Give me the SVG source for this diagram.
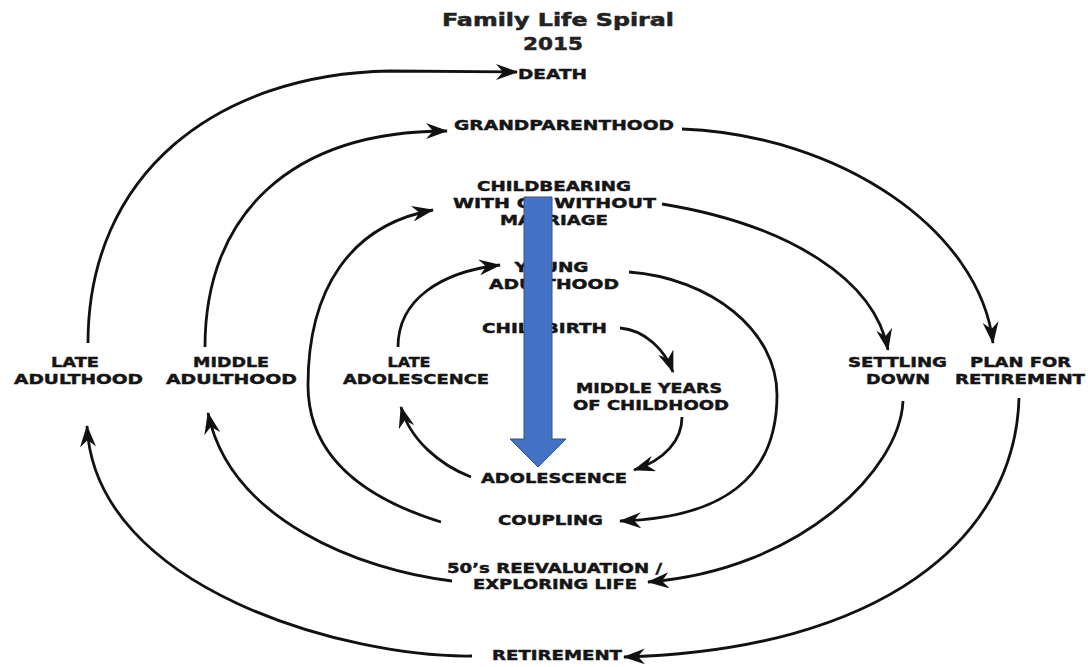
<svg xmlns="http://www.w3.org/2000/svg" width="1088" height="667" viewBox="0 0 1088 667">
<style>
  .t { font-family: "DejaVu Sans", "Liberation Sans", sans-serif; font-weight: bold; font-size: 14px; fill: #151515; stroke: #151515; stroke-width: 0.45; text-anchor: middle; }
  .title { font-family: "DejaVu Sans", "Liberation Sans", sans-serif; font-weight: bold; font-size: 18.5px; fill: #222; stroke: #222; stroke-width: 0.5; text-anchor: middle; }
  .c { fill: none; stroke: #111; stroke-width: 2.8; marker-end: url(#ah); }
</style>
<defs>
  <marker id="ah" viewBox="0 0 22 16" refX="21" refY="8" markerWidth="22" markerHeight="16" markerUnits="userSpaceOnUse" orient="auto">
    <path d="M0,0 L22,8 L0,16 L7,8 z" fill="#111"/>
  </marker>
</defs>
<rect width="1088" height="667" fill="#fff"/>

<g id="title">
  <text class="title" x="558" y="26" textLength="232" lengthAdjust="spacingAndGlyphs">Family Life Spiral</text>
  <text class="title" x="553" y="50" textLength="60" lengthAdjust="spacingAndGlyphs">2015</text>
</g>

<g id="connectors">
  <path class="c" d="M88,343 C88,175 215,74 390,71 C440,71 480,72 517,72"/>
  <path class="c" d="M205,347 C205,215 290,131 447,131"/>
  <path class="c" d="M682,129 C840,135 980,230 993,343"/>
  <path class="c" d="M441,522 C370,500 308,460 308,385 C308,290 350,225 433,210"/>
  <path class="c" d="M662,204 C790,225 875,280 888,350"/>
  <path class="c" d="M398,347 C398,300 440,272 500,265"/>
  <path class="c" d="M629,272 C710,278 777,330 777,395 C777,480 720,518 620,521"/>
  <path class="c" d="M620,328 C645,330 665,350 673,372"/>
  <path class="c" d="M682,417 C682,440 665,460 634,470"/>
  <path class="c" d="M471,477 C440,465 410,440 401,407"/>
  <path class="c" d="M903,401 C900,470 800,570 648,582"/>
  <path class="c" d="M1019,398 C1015,540 880,650 624,657"/>
  <path class="c" d="M472,656 C350,658 95,590 87,426"/>
  <path class="c" d="M452,581 C360,570 230,520 208,413"/>
</g>

<g id="death"><text class="t" x="552.5" y="79" textLength="69" lengthAdjust="spacingAndGlyphs">DEATH</text></g>
<g id="grandparenthood"><text class="t" x="564" y="130" textLength="220" lengthAdjust="spacingAndGlyphs">GRANDPARENTHOOD</text></g>
<g id="childbearing">
  <text class="t" x="554" y="191" textLength="154" lengthAdjust="spacingAndGlyphs">CHILDBEARING</text>
  <text class="t" x="554.5" y="208" textLength="203" lengthAdjust="spacingAndGlyphs">WITH OR WITHOUT</text>
  <text class="t" x="554" y="225" textLength="108" lengthAdjust="spacingAndGlyphs">MARRIAGE</text>
</g>
<g id="young-adulthood">
  <text class="t" x="551.5" y="272" textLength="74" lengthAdjust="spacingAndGlyphs">YOUNG</text>
  <text class="t" x="554" y="289" textLength="130" lengthAdjust="spacingAndGlyphs">ADULTHOOD</text>
</g>
<g id="childbirth"><text class="t" x="544.5" y="333" textLength="125" lengthAdjust="spacingAndGlyphs">CHILDBIRTH</text></g>
<g id="late-adolescence">
  <text class="t" x="409" y="367" textLength="43" lengthAdjust="spacingAndGlyphs">LATE</text>
  <text class="t" x="416" y="384" textLength="146" lengthAdjust="spacingAndGlyphs">ADOLESCENCE</text>
</g>
<g id="middle-years">
  <text class="t" x="649" y="393" textLength="146" lengthAdjust="spacingAndGlyphs">MIDDLE YEARS</text>
  <text class="t" x="651" y="410" textLength="156" lengthAdjust="spacingAndGlyphs">OF CHILDHOOD</text>
</g>
<g id="adolescence"><text class="t" x="554" y="483" textLength="146" lengthAdjust="spacingAndGlyphs">ADOLESCENCE</text></g>
<g id="coupling"><text class="t" x="550.5" y="525" textLength="105" lengthAdjust="spacingAndGlyphs">COUPLING</text></g>
<g id="reevaluation">
  <text class="t" x="554.5" y="573" textLength="215" lengthAdjust="spacingAndGlyphs">50’s REEVALUATION /</text>
  <text class="t" x="555" y="589" textLength="164" lengthAdjust="spacingAndGlyphs">EXPLORING LIFE</text>
</g>
<g id="retirement"><text class="t" x="557" y="660" textLength="130" lengthAdjust="spacingAndGlyphs">RETIREMENT</text></g>
<g id="late-adulthood">
  <text class="t" x="75" y="367" textLength="48" lengthAdjust="spacingAndGlyphs">LATE</text>
  <text class="t" x="78.5" y="384" textLength="129" lengthAdjust="spacingAndGlyphs">ADULTHOOD</text>
</g>
<g id="middle-adulthood">
  <text class="t" x="231" y="367" textLength="76" lengthAdjust="spacingAndGlyphs">MIDDLE</text>
  <text class="t" x="231.5" y="384" textLength="131" lengthAdjust="spacingAndGlyphs">ADULTHOOD</text>
</g>
<g id="settling-down">
  <text class="t" x="897.5" y="367" textLength="99" lengthAdjust="spacingAndGlyphs">SETTLING</text>
  <text class="t" x="898" y="384" textLength="64" lengthAdjust="spacingAndGlyphs">DOWN</text>
</g>
<g id="plan-for-retirement">
  <text class="t" x="1020.5" y="367" textLength="101" lengthAdjust="spacingAndGlyphs">PLAN FOR</text>
  <text class="t" x="1020" y="384" textLength="130" lengthAdjust="spacingAndGlyphs">RETIREMENT</text>
</g>

<g id="blue-arrow">
  <polygon points="524,197 552,197 552,439 566,439 538,467 510,439 524,439" fill="#4472C4" stroke="#2F528F" stroke-width="1"/>
</g>
</svg>
